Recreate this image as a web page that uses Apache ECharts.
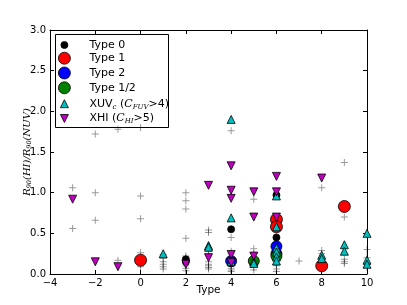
<!DOCTYPE html>
<html><head><meta charset="utf-8">
<script src="https://cdn.jsdelivr.net/npm/echarts@6/dist/echarts.min.js"></script>
<style>html,body{margin:0;padding:0;background:#fff}#c{width:407px;height:305px}</style>
</head><body><div id="c"></div>
<script>
var xTicks = [-4, -2, 0, 2, 4, 6, 8, 10];
var yTicks = [0.0, 0.5, 1.0, 1.5, 2.0, 2.5, 3.0];
var allGalaxies = [
  [-3,1.06],[-3,0.56],
  [-2,1.72],[-2,1.00],[-2,0.66],
  [-1,1.78],[-1,0.17],
  [0,1.80],[0,0.96],[0,0.68],[0,0.26],[0,0.20],[0,0.12],[0,0.09],
  [1,0.24],[1,0.19],[1,0.15],[1,0.12],[1,0.09],[1,0.06],
  [2,1.00],[2,0.90],[2,0.80],[2,0.44],[2,0.22],[2,0.20],[2,0.14],[2,0.10],[2,0.07],[2,0.04],
  [3,0.54],[3,0.51],[3,0.28],[3,0.25],[3,0.15],[3,0.12],[3,0.10],[3,0.08],[3,0.06],
  [4,1.76],[4,0.45],[4,0.28],[4,0.25],[4,0.20],[4,0.15],[4,0.10],[4,0.07],[4,0.05],[4,0.03],
  [5,0.92],[5,0.31],[5,0.25],[5,0.20],[5,0.12],[5,0.08],[5,0.05],
  [6,0.15],[6,0.12],[6,0.10],[6,0.06],[6,0.03],
  [7,0.16],
  [8,1.06],[8,0.29],[8,0.25],[8,0.20],
  [9,1.37],[9,0.70],[9,0.18],[9,0.15],[9,0.13],
  [10,0.30],[10,0.20],[10,0.12],[10,0.08]
];
var type0 = [[2,0.18],[2,0.15],[4,0.55],[4,0.13],[6,0.45],[6,0.97]];
var type1 = [[0,0.17],[6,0.67],[6,0.58],[8,0.10],[9,0.83]];
var type2 = [[4,0.16],[6,0.34],[6,0.25]];
var type12 = [[5,0.16],[6,0.22]];
var xuv = [[1,0.25],[3,0.35],[3,0.33],[4,1.90],[4,0.69],[4,0.15],[5,0.15],[5,0.13],
  [6,0.96],[6,0.58],[6,0.32],[6,0.27],[6,0.21],[6,0.16],[8,0.23],[8,0.19],[9,0.36],[9,0.28],
  [10,0.50],[10,0.17],[10,0.12]];
var xhi = [[-3,0.92],[-2,0.15],[-1,0.09],[2,0.12],[3,1.09],[3,0.20],[4,1.33],[4,1.03],[4,0.93],
  [4,0.24],[4,0.14],[5,1.01],[5,0.70],[5,0.22],[6,1.20],[6,1.01],[6,0.70],[8,1.18]];

var names = ['Type 0','Type 1','Type 2','Type 1/2','XUV','XHI'];
var plusPath = 'path://M3,0h1v3h3v1h-3v3h-1v-3h-3v-1h3z';
var downTri = 'path://M0,0L10,0L5,10Z';
var F = 'DejaVu Sans';
var edge = {borderColor:'#000', borderWidth:0.8};
function sty(c){ return Object.assign({color:c, opacity:1}, edge); }

var legendRich = {
  sub:{fontSize:7, fontFamily:'DejaVu Serif', fontStyle:'italic', verticalAlign:'bottom', padding:[6,0,0,0], color:'#000'},
  it:{fontSize:11, fontFamily:'DejaVu Serif', fontStyle:'italic', color:'#000'},
  n:{fontSize:11, fontFamily:F, color:'#000'}
};
var legendLabels = {
  'Type 0':'{n|Type 0}','Type 1':'{n|Type 1}','Type 2':'{n|Type 2}','Type 1/2':'{n|Type 1/2}',
  'XUV':'{n|XUV}{sub|c}{n| (}{it|C}{sub|FUV}{n|>4)}',
  'XHI':'{n|XHI (}{it|C}{sub|HI}{n|>5)}'
};
var legSizes = [[7,7],[12,12],[12,12],[12,12],[8,8],[8,8]];
var legIcons = ['circle','circle','circle','circle','triangle',downTri];
var legends = names.map(function(n,i){
  return {
    data:[{name:n, icon:legIcons[i]}], left:64 - legSizes[i][0]/2, top:43 + i*14.8 - legSizes[i][1]/2,
    itemWidth:legSizes[i][0], itemHeight:legSizes[i][1], itemGap:0, padding:0,
    selectedMode:false,
    itemStyle:{borderColor:'#000', borderWidth:0.8},
    formatter:function(){ return legendLabels[n]; },
    textStyle:{rich:legendRich, padding:[0,0,0, 24 - legSizes[i][0]/2 - 4]}
  };
});

var chart = echarts.init(document.getElementById('c'));
chart.setOption({
  animation:false,
  backgroundColor:'#fff',
  grid:{left:50, right:40, top:30, bottom:31},
  graphic:[{type:'rect', shape:{x:55.5, y:34.5, width:113, height:93}, style:{fill:'none', stroke:'#000', lineWidth:1}, z:100}],
  legend:legends,
  xAxis:[{
    type:'value', min:-4, max:10, interval:2, position:'bottom',
    name:'Type', nameLocation:'middle', nameGap:11, nameMoveOverlap:false,
    nameTextStyle:{fontFamily:F, fontSize:10.5, color:'#000', verticalAlign:'top'},
    axisLine:{show:true, onZero:false, lineStyle:{color:'#000', width:1}},
    axisTick:{show:true, inside:true, length:4, lineStyle:{color:'#000'}},
    axisLabel:{fontFamily:F, fontSize:10, color:'#000', margin:4,
      formatter:function(v){ return xTicks.indexOf(v)>=0 ? (v<0?'\u2212'+(-v):String(v)) : ''; }},
    splitLine:{show:false}
  },{
    type:'value', min:-4, max:10, interval:2, position:'top',
    axisLine:{show:true, onZero:false, lineStyle:{color:'#000', width:1}},
    axisTick:{show:true, inside:true, length:4, lineStyle:{color:'#000'}},
    axisLabel:{show:false}, splitLine:{show:false}
  }],
  yAxis:[{
    type:'value', min:0, max:3, interval:0.5, position:'left',
    name:'{it|R}{sub|90}{it|(HI)/R}{sub|90}{it|(NUV)}', nameLocation:'middle', nameGap:23, nameRotate:90,
    nameMoveOverlap:false,
    nameTextStyle:{verticalAlign:'middle', rich:{
      it:{fontFamily:'DejaVu Serif', fontStyle:'italic', fontSize:10, color:'#000'},
      sub:{fontFamily:'DejaVu Serif', fontStyle:'italic', fontSize:6.5, color:'#000', verticalAlign:'bottom', padding:[5,0,0,0]}
    }},
    axisLine:{show:true, onZero:false, lineStyle:{color:'#000', width:1}},
    axisTick:{show:true, inside:true, length:4, lineStyle:{color:'#000'}},
    axisLabel:{fontFamily:F, fontSize:10, color:'#000', margin:4,
      formatter:function(v){ return yTicks.indexOf(v)>=0 ? v.toFixed(1) : ''; }},
    splitLine:{show:false}
  },{
    type:'value', min:0, max:3, interval:0.5, position:'right',
    axisLine:{show:true, onZero:false, lineStyle:{color:'#000', width:1}},
    axisTick:{show:true, inside:true, length:4, lineStyle:{color:'#000'}},
    axisLabel:{show:false}, splitLine:{show:false}
  }],
  series:[
    {type:'scatter', name:'all', data:allGalaxies, symbol:plusPath, symbolSize:7,
      itemStyle:{color:'rgba(0,0,0,0.5)'}, z:1},
    {type:'scatter', name:'Type 0', data:type0, symbol:'circle', symbolSize:7, itemStyle:sty('#000000'), z:3},
    {type:'scatter', name:'Type 1', data:type1, symbol:'circle', symbolSize:12, itemStyle:sty('#ff0000'), z:3},
    {type:'scatter', name:'Type 2', data:type2, symbol:'circle', symbolSize:11, itemStyle:sty('#0000ff'), z:3},
    {type:'scatter', name:'Type 1/2', data:type12, symbol:'circle', symbolSize:11, itemStyle:sty('#008000'), z:3},
    {type:'scatter', name:'XUV', data:xuv, symbol:'triangle', symbolSize:8, itemStyle:sty('#00bfbf'), z:4},
    {type:'scatter', name:'XHI', data:xhi, symbol:downTri, symbolSize:8, itemStyle:sty('#bf00bf'), z:4}
  ]
});
</script></body></html>
